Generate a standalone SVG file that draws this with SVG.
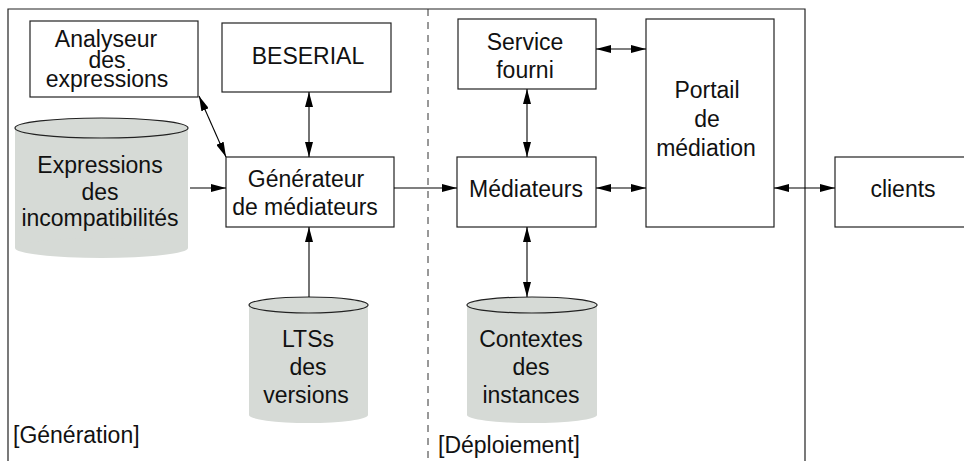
<svg xmlns="http://www.w3.org/2000/svg" width="964" height="461" viewBox="0 0 964 461">
<style>
  .box{fill:#fff;stroke:#222;stroke-width:1.2}
  .db{fill:#d6dad6}
  .top{fill:#d6dad6;stroke:#222;stroke-width:1.2}
  .t{font-family:"Liberation Sans",Arial,sans-serif;font-size:23px;fill:#111;text-anchor:middle}
  .l{font-family:"Liberation Sans",Arial,sans-serif;font-size:23px;fill:#111}
  .c{stroke:#000;stroke-width:1.1;fill:none}
</style>
<defs>
  <marker id="ah" viewBox="0 0 15 8" markerWidth="15" markerHeight="8" refX="15" refY="4" markerUnits="userSpaceOnUse" orient="auto-start-reverse">
    <path d="M0,0 L15,4 L0,8 z" fill="#000"/>
  </marker>
</defs>
<rect width="964" height="461" fill="#fff"/>
<g id="frame">
  <path d="M8,461 V9 H805 V461" fill="none" stroke="#222" stroke-width="1.2"/>
  <line x1="428" y1="9" x2="428" y2="461" stroke="#333" stroke-width="1" stroke-dasharray="7,6"/>
  <text class="l" x="13" y="443">[Génération]</text>
  <text class="l" x="438" y="453">[Déploiement]</text>
</g>
<g id="analyseur">
  <rect class="box" x="30" y="21" width="168" height="76"/>
  <text class="t" x="106" y="47">Analyseur</text>
  <text class="t" x="107" y="68">des</text>
  <text class="t" x="107" y="87">expressions</text>
</g>
<g id="beserial">
  <rect class="box" x="222" y="23" width="169" height="69"/>
  <text class="t" x="308" y="64">BESERIAL</text>
</g>
<g id="expressions">
  <rect class="db" x="15" y="128" width="173" height="120"/>
  <ellipse class="db" cx="101.5" cy="248" rx="86.5" ry="10"/>
  <ellipse class="top" cx="101.5" cy="128" rx="86.5" ry="10"/>
  <text class="t" x="100" y="173">Expressions</text>
  <text class="t" x="100" y="200">des</text>
  <text class="t" x="100" y="226">incompatibilités</text>
</g>
<g id="generateur">
  <rect class="box" x="226" y="157" width="168" height="70"/>
  <text class="t" x="306" y="187">Générateur</text>
  <text class="t" x="305" y="215">de médiateurs</text>
</g>
<g id="lts">
  <rect class="db" x="249" y="305" width="119" height="110"/>
  <ellipse class="db" cx="308.5" cy="415" rx="59.5" ry="8"/>
  <ellipse class="top" cx="308.5" cy="305" rx="59.5" ry="8"/>
  <text class="t" x="308" y="347">LTSs</text>
  <text class="t" x="308" y="375">des</text>
  <text class="t" x="306" y="403">versions</text>
</g>
<g id="service">
  <rect class="box" x="458" y="19" width="138" height="70"/>
  <text class="t" x="525" y="50">Service</text>
  <text class="t" x="525" y="78">fourni</text>
</g>
<g id="mediateurs">
  <rect class="box" x="457" y="157" width="139" height="70"/>
  <text class="t" x="526" y="197">Médiateurs</text>
</g>
<g id="contextes">
  <rect class="db" x="467" y="305" width="130" height="110"/>
  <ellipse class="db" cx="532" cy="415" rx="65" ry="8"/>
  <ellipse class="top" cx="532" cy="305" rx="65" ry="8"/>
  <text class="t" x="531" y="347">Contextes</text>
  <text class="t" x="531" y="375">des</text>
  <text class="t" x="531" y="403">instances</text>
</g>
<g id="portail">
  <rect class="box" x="646" y="19" width="128" height="208"/>
  <text class="t" x="707" y="98">Portail</text>
  <text class="t" x="707" y="127">de</text>
  <text class="t" x="706" y="156">médiation</text>
</g>
<g id="clients">
  <rect class="box" x="835" y="157" width="140" height="70"/>
  <text class="t" x="903" y="197">clients</text>
</g>
<g id="connectors">
  <path class="c" d="M199,96 L226,157" marker-start="url(#ah)" marker-end="url(#ah)"/>
  <path class="c" d="M309,92 V157" marker-start="url(#ah)" marker-end="url(#ah)"/>
  <path class="c" d="M190,188 H226" marker-end="url(#ah)"/>
  <path class="c" d="M309,297 V227" marker-end="url(#ah)"/>
  <path class="c" d="M394,188 H457" marker-end="url(#ah)"/>
  <path class="c" d="M527,89 V157" marker-start="url(#ah)" marker-end="url(#ah)"/>
  <path class="c" d="M596,49 H646" marker-start="url(#ah)" marker-end="url(#ah)"/>
  <path class="c" d="M596,188 H646" marker-start="url(#ah)" marker-end="url(#ah)"/>
  <path class="c" d="M527,227 V297" marker-start="url(#ah)" marker-end="url(#ah)"/>
  <path class="c" d="M774,188 H835" marker-start="url(#ah)" marker-end="url(#ah)"/>
</g>
</svg>
